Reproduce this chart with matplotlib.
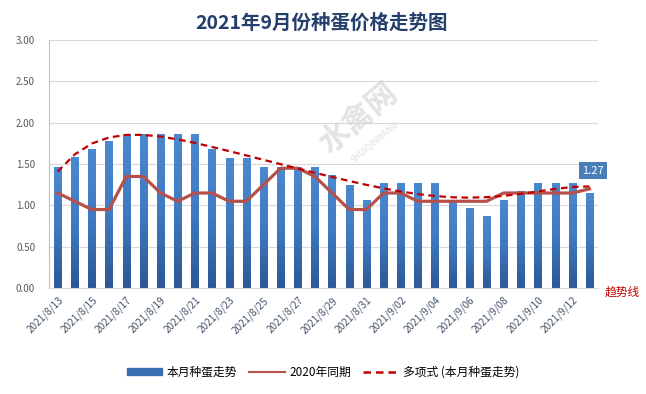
import numpy as np
import matplotlib
matplotlib.use("Agg")
import matplotlib.pyplot as plt
from matplotlib.lines import Line2D
from matplotlib.patches import Patch

plt.rcParams['font.family'] = ['Noto Sans CJK SC', 'DejaVu Sans']

# data
days = ['2021/8/13', '2021/8/14', '2021/8/15', '2021/8/16', '2021/8/17', '2021/8/18',
        '2021/8/19', '2021/8/20', '2021/8/21', '2021/8/22', '2021/8/23', '2021/8/24',
        '2021/8/25', '2021/8/26', '2021/8/27', '2021/8/28', '2021/8/29', '2021/8/30',
        '2021/8/31', '2021/9/01', '2021/9/02', '2021/9/03', '2021/9/04', '2021/9/05',
        '2021/9/06', '2021/9/07', '2021/9/08', '2021/9/09', '2021/9/10', '2021/9/11',
        '2021/9/12', '2021/9/13']
price_2021 = [1.47, 1.58, 1.68, 1.78, 1.87, 1.87, 1.87, 1.87, 1.87, 1.68, 1.57, 1.57,
              1.47, 1.47, 1.47, 1.47, 1.37, 1.25, 1.07, 1.27, 1.27, 1.27, 1.27, 1.07,
              0.97, 0.87, 1.07, 1.17, 1.27, 1.27, 1.27, 1.15]
price_2020 = [1.15, 1.05, 0.95, 0.95, 1.35, 1.35, 1.15, 1.05, 1.15, 1.15, 1.05, 1.05,
              1.25, 1.45, 1.45, 1.35, 1.15, 0.95, 0.95, 1.15, 1.15, 1.05, 1.05, 1.05,
              1.05, 1.05, 1.15, 1.15, 1.15, 1.15, 1.15, 1.20]
last_label = '1.27'

x = np.arange(len(days))
# polynomial trend of this month's prices (like Excel's 多项式 trendline)
coef = np.polyfit(x + 1, price_2021, 6)
trend = np.polyval(coef, x + 1)

fig = plt.figure(figsize=(6.46, 3.94), dpi=100)
ax = fig.add_axes([0.0759, 0.269, 0.8498, 0.629])

bars = ax.bar(x, price_2021, width=0.42, color='#3a6fb4', zorder=2)
# vertical gradient inside each bar
grad = np.linspace(0, 1, 64).reshape(-1, 1)
cmap = matplotlib.colors.LinearSegmentedColormap.from_list('b', ['#2d5895', '#3f7bc2', '#4a88cf'])
for b in bars:
    x0, w, h = b.get_x(), b.get_width(), b.get_height()
    im = ax.imshow(grad, cmap=cmap, aspect='auto', origin='lower',
                   extent=[x0, x0 + w, 0, h], zorder=2.1)
    im.set_clip_path(b)

ax.plot(x, price_2020, color='#b5504b', lw=2.3, solid_joinstyle='round', zorder=3)
ax.plot(x, trend, color='#c00000', lw=1.6, ls=(0, (3, 2)), zorder=4)

ax.set_xlim(-0.5, len(days) - 0.5)
ax.set_ylim(0, 3)
ax.set_yticks(np.arange(0, 3.01, 0.5))
ax.set_yticklabels(['%.2f' % v for v in np.arange(0, 3.01, 0.5)], fontsize=7, color='#595959')
ax.set_xticks(x[::2])
ax.set_xticklabels(days[::2], rotation=45, ha='right', rotation_mode='anchor',
                   fontsize=7.2, color='#44546a')
ax.tick_params(axis='x', length=0, pad=5)
ax.tick_params(axis='y', length=0, pad=10)
ax.grid(axis='y', color='#d9d9d9', lw=0.8, zorder=0)
ax.set_axisbelow(True)
for s in ['top', 'right']:
    ax.spines[s].set_visible(False)
ax.spines['left'].set_color('#bfbfbf')
ax.spines['bottom'].set_color('#d9d9d9')

# value box over the last bar
ax.text(x[-1] + 0.2, 1.42, last_label, ha='center', va='center', color='white', fontsize=8,
        bbox=dict(boxstyle='square,pad=0.3', fc='#4a7ebb', ec='none'), zorder=6)

# watermark
fig.text(0.555, 0.70, '水禽网', rotation=40, fontsize=22, color='#d0d0d0', alpha=0.6,
         ha='center', va='center', fontweight='bold', zorder=0)
fig.text(0.58, 0.64, 'SHUIQINWANG', rotation=40, fontsize=6, color='#d0d0d0', alpha=0.7,
         ha='center', va='center', zorder=0)

fig.text(0.497, 0.942, '2021年9月份种蛋价格走势图', ha='center', va='center',
         fontsize=14, fontweight='bold', color='#243f6b')
fig.text(0.963, 0.258, '趋势线', ha='center', va='center', fontsize=8.5, color='#c00000')

handles = [Patch(color='#3a6fb4'),
           Line2D([], [], color='#b5504b', lw=1.5),
           Line2D([], [], color='#c00000', lw=1.8, ls=(0, (3, 2)))]
labels = ['本月种蛋走势', '2020年同期', '多项式 (本月种蛋走势)']
fig.legend(handles, labels, loc='center', bbox_to_anchor=(0.5, 0.055), ncol=3,
           frameon=False, fontsize=8.5, handlelength=3.0, handleheight=0.5,
           columnspacing=1.0, handletextpad=0.4)

fig.savefig('out.png', dpi=100)
